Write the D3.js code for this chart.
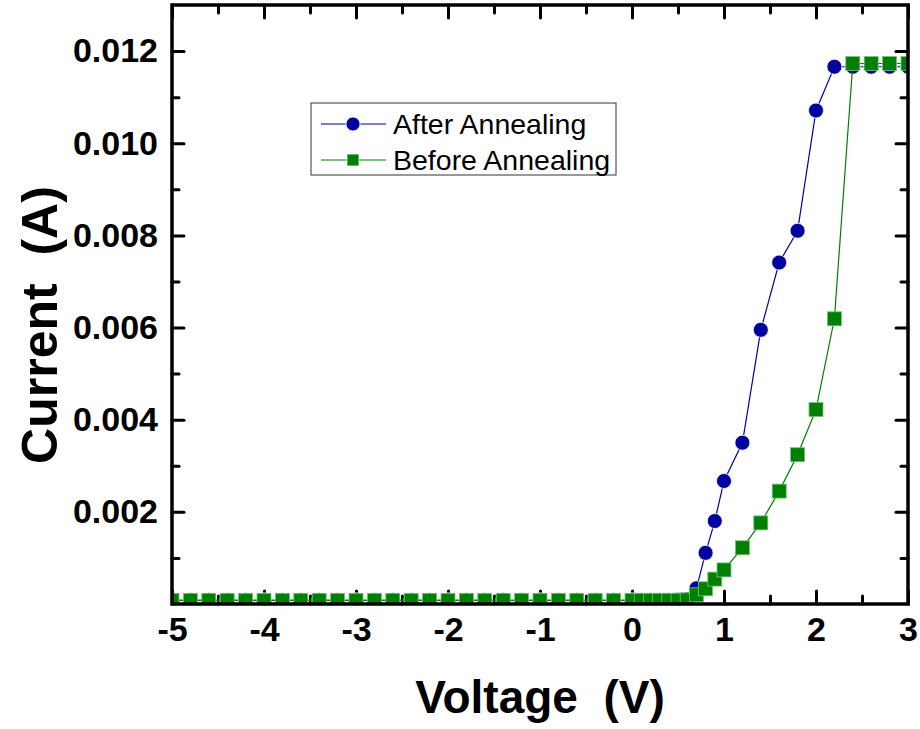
<!DOCTYPE html>
<html>
<head>
<meta charset="utf-8">
<script src="https://cdnjs.cloudflare.com/ajax/libs/d3/7.8.5/d3.min.js"></script>
<style>
  body { margin: 0; background: #fff; }
  svg { display: block; font-family: Arial, "Liberation Sans", sans-serif; }
  .tick text { font-weight: bold; font-size: 34px; fill: #000; }
</style>
</head>
<body>
<script>
const width = 920;
const height = 729;
const blue = "#0000a0";
const green = "#008000";

// voltage steps (V)
const voltage = [-5, -4.8, -4.6, -4.4, -4.2, -4, -3.8, -3.6, -3.4, -3.2, -3, -2.8, -2.6, -2.4, -2.2,
  -2, -1.8, -1.6, -1.4, -1.2, -1, -0.8, -0.6, -0.4, -0.2,
  0, 0.1, 0.2, 0.3, 0.4, 0.5, 0.6, 0.7, 0.8, 0.9, 1.0,
  1.2, 1.4, 1.6, 1.8, 2.0, 2.2, 2.4, 2.6, 2.8, 3.0];

// current (A) after annealing
const afterAnnealing = [0.00008, 0.00008, 0.00008, 0.00008, 0.00008, 0.00008, 0.00008, 0.00008, 0.00008, 0.00008,
  0.00008, 0.00008, 0.00008, 0.00008, 0.00008, 0.00008, 0.00008, 0.00008, 0.00008, 0.00008,
  0.00008, 0.00008, 0.00008, 0.00008, 0.00008,
  0.00008, 0.00008, 0.00008, 0.00008, 0.00008, 0.00009, 0.0001, 0.00034, 0.00111, 0.0018, 0.00267,
  0.0035, 0.00595, 0.00741, 0.0081, 0.01071, 0.01166, 0.01166, 0.01166, 0.01166, 0.01166];

// current (A) before annealing
const beforeAnnealing = [0.00008, 0.00008, 0.00008, 0.00008, 0.00008, 0.00008, 0.00008, 0.00008, 0.00008, 0.00008,
  0.00008, 0.00008, 0.00008, 0.00008, 0.00008, 0.00008, 0.00008, 0.00008, 0.00008, 0.00008,
  0.00008, 0.00008, 0.00008, 0.00008, 0.00008,
  0.00008, 0.00008, 0.00008, 0.00008, 0.00008, 0.00008, 0.00009, 0.0002, 0.00033, 0.00054, 0.00074,
  0.00122, 0.00176, 0.00245, 0.00324, 0.00422, 0.00619, 0.01173, 0.01173, 0.01173, 0.01173];

const xMajor = [-5, -4, -3, -2, -1, 0, 1, 2, 3];
const xMinor = [-4.5, -3.5, -2.5, -1.5, -0.5, 0.5, 1.5, 2.5];
const yMajor = [0.002, 0.004, 0.006, 0.008, 0.010, 0.012];
const yMinor = [0.001, 0.003, 0.005, 0.007, 0.009, 0.011];

const plotLeft = 172, plotRight = 908, plotTop = 5, plotBottom = 604;

const x = d3.scaleLinear().domain([-5, 3]).range([plotLeft, plotRight]);
const y = d3.scaleLinear().domain([0, 0.013]).range([plotBottom, plotTop]);

const svg = d3.select("body").append("svg")
    .attr("width", width)
    .attr("height", height);

svg.append("defs").append("clipPath")
    .attr("id", "plot-clip")
  .append("rect")
    .attr("x", plotLeft).attr("y", plotTop)
    .attr("width", plotRight - plotLeft).attr("height", plotBottom - plotTop);

// ticks, all pointing inward
function styleTicks(g) {
    g.select(".domain").remove();
    g.selectAll(".tick line")
        .attr("stroke", "#000")
        .attr("stroke-width", 3)
        .attr("stroke-linecap", "round");
}

svg.append("g")
    .attr("transform", "translate(0," + plotBottom + ")")
    .call(d3.axisBottom(x).tickValues(xMajor).tickSize(-13).tickPadding(13)
        .tickFormat(d => String(d)))
    .call(styleTicks);
svg.append("g")
    .attr("transform", "translate(0," + plotBottom + ")")
    .call(d3.axisBottom(x).tickValues(xMinor).tickSize(-8).tickFormat(""))
    .call(styleTicks);
svg.append("g")
    .attr("transform", "translate(0," + plotTop + ")")
    .call(d3.axisTop(x).tickValues(xMajor).tickSize(-13).tickFormat(""))
    .call(styleTicks);
svg.append("g")
    .attr("transform", "translate(0," + plotTop + ")")
    .call(d3.axisTop(x).tickValues(xMinor).tickSize(-8).tickFormat(""))
    .call(styleTicks);

svg.append("g")
    .attr("transform", "translate(" + plotLeft + ",0)")
    .call(d3.axisLeft(y).tickValues(yMajor).tickSize(-12).tickPadding(14)
        .tickFormat(d3.format(".3f")))
    .call(styleTicks);
svg.append("g")
    .attr("transform", "translate(" + plotLeft + ",0)")
    .call(d3.axisLeft(y).tickValues(yMinor).tickSize(-7).tickFormat(""))
    .call(styleTicks);
svg.append("g")
    .attr("transform", "translate(" + plotRight + ",0)")
    .call(d3.axisRight(y).tickValues(yMajor).tickSize(-12).tickFormat(""))
    .call(styleTicks);
svg.append("g")
    .attr("transform", "translate(" + plotRight + ",0)")
    .call(d3.axisRight(y).tickValues(yMinor).tickSize(-7).tickFormat(""))
    .call(styleTicks);

// data
const afterPts = voltage.map((v, i) => [v, afterAnnealing[i]]);
const beforePts = voltage.map((v, i) => [v, beforeAnnealing[i]]);
const line = d3.line().x(d => x(d[0])).y(d => y(d[1]));

const plot = svg.append("g").attr("clip-path", "url(#plot-clip)");

plot.append("path")
    .datum(afterPts)
    .attr("fill", "none")
    .attr("stroke", blue)
    .attr("stroke-width", 1.2)
    .attr("d", line);

plot.selectAll("circle.after")
    .data(afterPts)
    .enter().append("circle")
    .attr("class", "after")
    .attr("cx", d => x(d[0]))
    .attr("cy", d => y(d[1]))
    .attr("r", 7.5)
    .attr("fill", blue)
    .attr("stroke", "#fff")
    .attr("stroke-width", 0.8);

plot.append("path")
    .datum(beforePts)
    .attr("fill", "none")
    .attr("stroke", green)
    .attr("stroke-width", 1.2)
    .attr("d", line);

plot.selectAll("rect.before")
    .data(beforePts)
    .enter().append("rect")
    .attr("class", "before")
    .attr("x", d => x(d[0]) - 7)
    .attr("y", d => y(d[1]) - 7)
    .attr("width", 14)
    .attr("height", 14)
    .attr("fill", green)
    .attr("stroke", "#7fbf7f")
    .attr("stroke-width", 0.8);

// frame
svg.append("rect")
    .attr("x", plotLeft).attr("y", plotTop)
    .attr("width", plotRight - plotLeft).attr("height", plotBottom - plotTop)
    .attr("fill", "none")
    .attr("stroke", "#000")
    .attr("stroke-width", 3.5);

// axis titles
svg.append("text")
    .attr("x", (plotLeft + plotRight) / 2)
    .attr("y", 713)
    .attr("text-anchor", "middle")
    .attr("font-weight", "bold")
    .attr("font-size", 46)
    .style("white-space", "pre")
    .text("Voltage  (V)");

svg.append("text")
    .attr("transform", "translate(57,325) rotate(-90)")
    .attr("text-anchor", "middle")
    .attr("font-weight", "bold")
    .attr("font-size", 50)
    .style("white-space", "pre")
    .text("Current  (A)");

// legend
const legend = svg.append("g");
legend.append("rect")
    .attr("x", 311).attr("y", 103)
    .attr("width", 305).attr("height", 72)
    .attr("fill", "#fff")
    .attr("stroke", "#333")
    .attr("stroke-width", 1);

const items = [
    { name: "After Annealing", color: blue, shape: "circle", y: 124 },
    { name: "Before Annealing", color: green, shape: "square", y: 160 }
];

items.forEach(it => {
    legend.append("line")
        .attr("x1", 321).attr("x2", 386)
        .attr("y1", it.y).attr("y2", it.y)
        .attr("stroke", it.color)
        .attr("stroke-width", 1.2);
    if (it.shape === "circle") {
        legend.append("circle")
            .attr("cx", 353).attr("cy", it.y).attr("r", 7)
            .attr("fill", it.color)
            .attr("stroke", "#fff").attr("stroke-width", 0.8);
    } else {
        legend.append("rect")
            .attr("x", 347).attr("y", it.y - 6)
            .attr("width", 12).attr("height", 12)
            .attr("fill", it.color)
            .attr("stroke", "#fff").attr("stroke-width", 0.8);
    }
    legend.append("text")
        .attr("x", 393)
        .attr("y", it.y + 10)
        .attr("font-size", 28.5)
        .attr("fill", "#000")
        .text(it.name);
});
</script>
</body>
</html>
